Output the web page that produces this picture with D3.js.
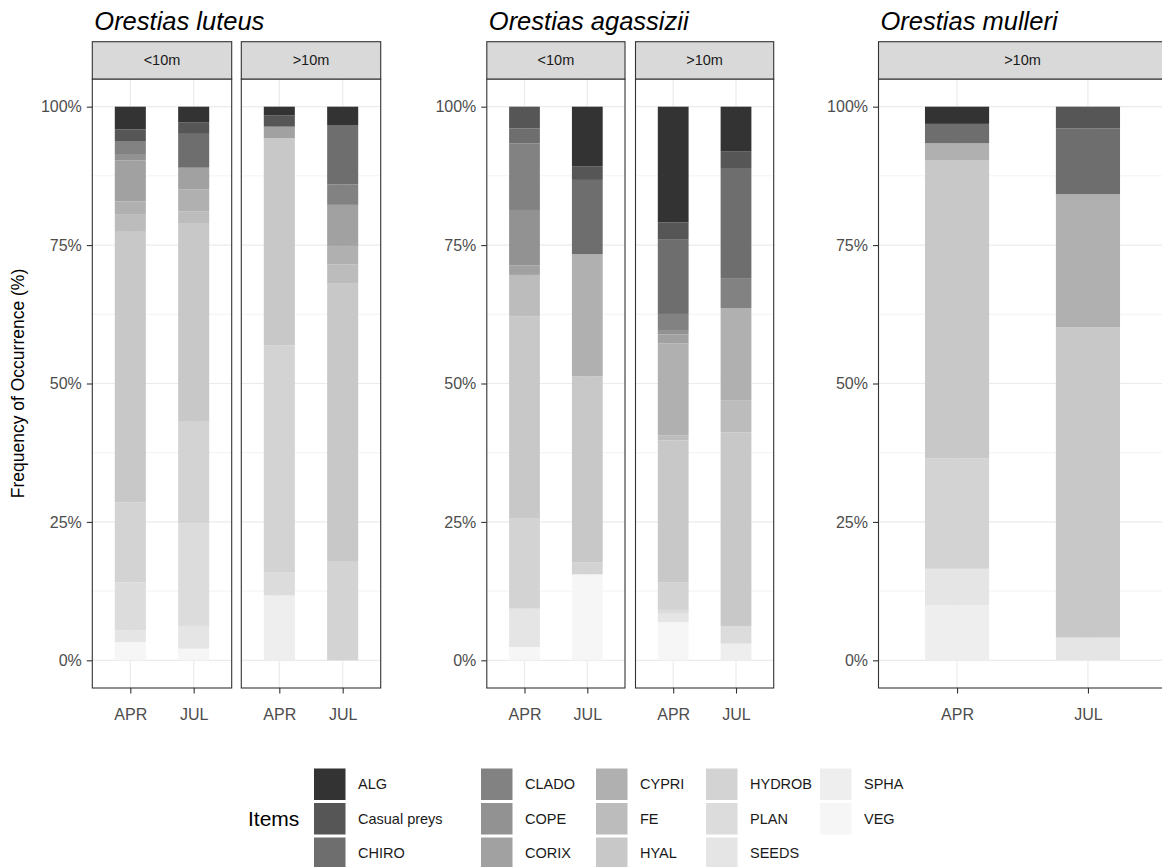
<!DOCTYPE html>
<html>
<head>
<meta charset="utf-8">
<script src="https://cdn.jsdelivr.net/npm/d3@7"></script>
<style>
  body { margin: 0; background: #fff; }
  svg { display: block; }
  text { font-family: "Liberation Sans", Arial, sans-serif; }
</style>
</head>
<body>
<svg id="chart" width="1162" height="867"></svg>
<script>
// Diet items, drawn top (ALG) to bottom (VEG) in each stacked bar
const items = ["ALG", "Casual preys", "CHIRO", "CLADO", "COPE", "CORIX", "CYPRI",
               "FE", "HYAL", "HYDROB", "PLAN", "SEEDS", "SPHA", "VEG"];
const itemColors = ["#333333", "#565656", "#6e6e6e", "#828282", "#929292", "#a1a1a1", "#b0b0b0",
                    "#bcbcbc", "#c8c8c8", "#d3d3d3", "#dcdcdc", "#e5e5e5", "#eeeeee", "#f6f6f6"];
const months = ["APR", "JUL"];
const yTicks = [0, 0.25, 0.5, 0.75, 1];
const yMinor = [0.125, 0.375, 0.625, 0.875];

// Frequency of occurrence (%) per item, in the order of `items`
//                       ALG  Cas  CHI  CLA  COP  COR  CYP  FE   HYAL HYDR PLAN SEED SPHA VEG
const luteusShallowApr = [4.1, 2.1, 0,   2.5, 1.0, 7.4, 2.3, 3.2, 48.9, 14.4, 8.7, 2.1, 0,   3.3];
const luteusShallowJul = [2.8, 2.1, 6.1, 0,   0,   3.9, 4.0, 2.2, 35.7, 18.3, 18.5, 4.1, 0,   2.1];
const luteusDeepApr    = [1.6, 2.0, 0,   0,   0,   2.1, 0,   0,   37.3, 40.9, 4.2, 0,   11.7, 0];
const luteusDeepJul    = [3.3, 0,   10.7, 3.7, 0,  7.4, 3.3, 3.4, 50.1, 17.9, 0,   0,   0,    0];
const agassiziiShallowApr = [0, 3.9, 2.7, 12.0, 10.0, 1.7, 0, 7.5, 36.4, 16.2, 0, 6.9, 0, 2.4];
const agassiziiShallowJul = [10.8, 2.4, 13.4, 0, 0, 0, 22.0, 0, 33.5, 2.2, 0, 0, 0, 15.5];
const agassiziiDeepApr = [20.9, 3.0, 13.5, 2.9, 0.8, 1.6, 16.6, 0.9, 25.6, 5.0, 0.7, 1.5, 0, 6.9];
const agassiziiDeepJul = [8.1, 3.1, 19.7, 5.4, 0, 0, 16.7, 5.7, 34.9, 0, 3.2, 0, 3.0, 0];
const mulleriDeepApr = [3.1, 0, 3.5, 0, 0, 0, 3.1, 0, 53.7, 19.9, 0, 6.6, 9.9, 0];
const mulleriDeepJul = [0, 3.9, 11.9, 0, 0, 0, 24.0, 0, 56.0, 0, 0, 4.1, 0, 0];

const species = [
  { name: "Orestias luteus", facets: [
      { label: "<10m", bars: [luteusShallowApr, luteusShallowJul] },
      { label: ">10m", bars: [luteusDeepApr, luteusDeepJul] } ] },
  { name: "Orestias agassizii", facets: [
      { label: "<10m", bars: [agassiziiShallowApr, agassiziiShallowJul] },
      { label: ">10m", bars: [agassiziiDeepApr, agassiziiDeepJul] } ] },
  { name: "Orestias mulleri", facets: [
      { label: ">10m", bars: [mulleriDeepApr, mulleriDeepJul] } ] }
];

// Page geometry for the three species plots
const layout = {
  stripTop: 41.7, panelTop: 79, panelBottom: 688,
  blocks: [
    { left: 92.3, panelW: 139.4, gap: 9.6 },
    { left: 486.8, panelW: 138.2, gap: 10.5 },
    { left: 878.5, panelW: 288, gap: 0 }
  ],
  barFrac: 0.49
};

const svg = d3.select("#chart");
svg.append("rect").attr("width", 1162).attr("height", 867).attr("fill", "#fff");

const y = d3.scaleLinear().domain([-0.05, 1.05]).range([layout.panelBottom, layout.panelTop]);

const stack = d3.stack()
  .keys(d3.range(items.length).reverse())
  .value((d, k) => d[k])
  .offset(d3.stackOffsetExpand);

const GRID = "#ebebeb", DARK = "#333333";

species.forEach((sp, si) => {
  const blk = layout.blocks[si];
  const g = svg.append("g");

  // species title
  g.append("text")
    .attr("x", blk.left + 2).attr("y", 30)
    .attr("font-size", 25.5).attr("font-style", "italic").attr("fill", "#000")
    .text(sp.name);

  // y axis on the first facet
  const yAxis = d3.axisLeft(y).tickValues(yTicks).tickFormat(d3.format(".0%"))
    .tickSize(5.5).tickPadding(5);
  const ya = g.append("g").attr("transform", `translate(${blk.left},0)`).call(yAxis);
  ya.select(".domain").remove();
  ya.selectAll(".tick line").attr("stroke", DARK).attr("stroke-width", 1.1);
  ya.selectAll(".tick text").attr("fill", "#4d4d4d").attr("font-size", 16)
    .attr("font-family", "'Liberation Sans', Arial, sans-serif");

  sp.facets.forEach((fc, fi) => {
    const x0 = blk.left + fi * (blk.panelW + blk.gap);
    const x1 = x0 + blk.panelW;
    const x = d3.scalePoint().domain(months).range([x0, x1]).padding(0.6);
    const bw = x.step() * layout.barFrac;
    const pg = g.append("g");

    pg.append("rect").attr("x", x0).attr("y", layout.panelTop)
      .attr("width", blk.panelW).attr("height", layout.panelBottom - layout.panelTop)
      .attr("fill", "#fff");

    // grid
    pg.selectAll(".minor").data(yMinor).join("line")
      .attr("x1", x0).attr("x2", x1).attr("y1", d => y(d)).attr("y2", d => y(d))
      .attr("stroke", GRID).attr("stroke-width", 0.6);
    pg.selectAll(".major").data(yTicks).join("line")
      .attr("x1", x0).attr("x2", x1).attr("y1", d => y(d)).attr("y2", d => y(d))
      .attr("stroke", GRID).attr("stroke-width", 1.2);
    pg.selectAll(".vmajor").data(months).join("line")
      .attr("x1", d => x(d)).attr("x2", d => x(d))
      .attr("y1", layout.panelTop).attr("y2", layout.panelBottom)
      .attr("stroke", GRID).attr("stroke-width", 1.2);

    // stacked bars (proportions)
    const series = stack(fc.bars);
    series.forEach(s => {
      pg.append("g").attr("fill", itemColors[s.key])
        .selectAll("rect").data(s.filter(d => d[1] - d[0] > 0).map(d => ({ d, i: s.indexOf(d) })))
        .join("rect")
        .attr("x", o => x(months[o.i]) - bw / 2)
        .attr("width", bw)
        .attr("y", o => y(o.d[1]))
        .attr("height", o => y(o.d[0]) - y(o.d[1]));
    });

    // panel border
    pg.append("rect").attr("x", x0).attr("y", layout.panelTop)
      .attr("width", blk.panelW).attr("height", layout.panelBottom - layout.panelTop)
      .attr("fill", "none").attr("stroke", DARK).attr("stroke-width", 1.1);

    // strip
    pg.append("rect").attr("x", x0).attr("y", layout.stripTop)
      .attr("width", blk.panelW).attr("height", layout.panelTop - layout.stripTop)
      .attr("fill", "#d9d9d9").attr("stroke", DARK).attr("stroke-width", 1.1);
    pg.append("text")
      .attr("x", (x0 + x1) / 2).attr("y", (layout.stripTop + layout.panelTop) / 2)
      .attr("dy", "0.35em").attr("text-anchor", "middle")
      .attr("font-size", 14.5).attr("fill", "#1a1a1a")
      .text(fc.label);

    // x axis
    const xa = pg.append("g").attr("transform", `translate(0,${layout.panelBottom})`)
      .call(d3.axisBottom(x).tickSize(5.5).tickPadding(15));
    xa.select(".domain").remove();
    xa.selectAll(".tick line").attr("stroke", DARK).attr("stroke-width", 1.1);
    xa.selectAll(".tick text").attr("fill", "#4d4d4d").attr("font-size", 16)
      .attr("font-family", "'Liberation Sans', Arial, sans-serif");
  });
});

// y axis title
svg.append("text")
  .attr("transform", `translate(24,${(layout.panelTop + layout.panelBottom) / 2}) rotate(-90)`)
  .attr("text-anchor", "middle").attr("font-size", 17.5).attr("fill", "#000")
  .text("Frequency of Occurrence (%)");

// legend: 3 rows, filled column by column
const legend = {
  titleX: 248, colX: [314, 481, 596, 706, 820], rowY: [768.5, 803, 837.5],
  key: 31.5, labelOffset: 44
};
const lg = svg.append("g");
lg.append("text").attr("x", legend.titleX).attr("y", legend.rowY[1] + legend.key / 2)
  .attr("dy", "0.35em").attr("font-size", 21).attr("fill", "#000").text("Items");
items.forEach((name, i) => {
  const c = Math.floor(i / 3), r = i % 3;
  lg.append("rect").attr("x", legend.colX[c]).attr("y", legend.rowY[r])
    .attr("width", legend.key).attr("height", legend.key).attr("fill", itemColors[i]);
  lg.append("text").attr("x", legend.colX[c] + legend.labelOffset)
    .attr("y", legend.rowY[r] + legend.key / 2).attr("dy", "0.35em")
    .attr("font-size", 14.5).attr("fill", "#1a1a1a").text(name);
});
</script>
</body>
</html>
